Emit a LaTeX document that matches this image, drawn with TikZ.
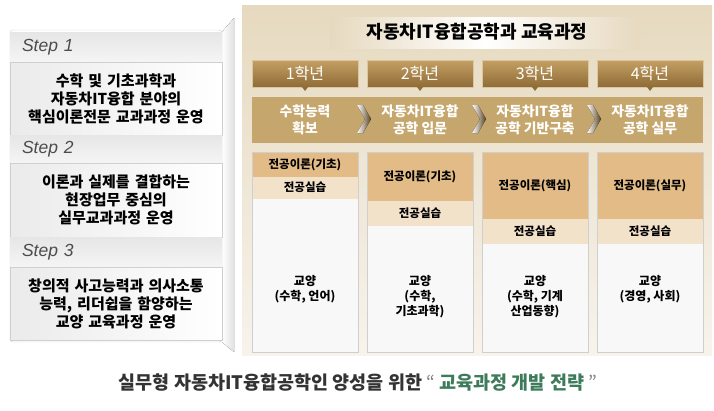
\documentclass[tikz,border=0pt]{standalone}
\usepackage{fontspec}
\setmainfont{Noto Sans CJK KR}
\newfontfamily\stepfont{Liberation Sans}
\usetikzlibrary{positioning}
\definecolor{GoldDark}{HTML}{8F6C36}
\definecolor{GoldLight}{HTML}{C4A064}
\definecolor{GoldBand}{HTML}{C5A66C}
\definecolor{CreamBg}{HTML}{E6D9BF}
\definecolor{TheoryTan}{HTML}{E3BB87}
\definecolor{PracticeTan}{HTML}{F3E2CA}
\definecolor{BodyGray}{HTML}{F8F8F8}
\definecolor{LineGray}{HTML}{CFCFCF}
\definecolor{StepGray}{HTML}{E6E6E6}
\definecolor{CaptionGreen}{HTML}{3E7B5B}
\definecolor{TextGray}{HTML}{333333}

\tikzset{
  chevron/.pic={
    \fill[left color=white,right color=GoldDark!60!black]
      (-7,-14) -- (-1,-14) -- (7,0) -- (-1,14) -- (-7,14) -- (1,0) -- cycle;
  }
}

\begin{document}
\begin{tikzpicture}[x=1pt,y=-1pt,node distance=9pt,
  every node/.style={outer sep=0pt},
  yearbox/.style={minimum width=106pt,minimum height=27pt,inner sep=0pt,
    top color=GoldLight,bottom color=GoldDark,draw=GoldLight!60!white,
    text=white,font=\fontsize{16}{18}\selectfont},
  bandtext/.style={text=white,align=center,font=\bfseries\fontsize{13.8}{17}\selectfont},
  colbody/.style={fill=BodyGray,draw=LineGray,minimum width=106pt,minimum height=200pt,inner sep=0pt},
  theory/.style={fill=TheoryTan,minimum width=105pt,inner sep=0pt,font=\bfseries\fontsize{11.5}{14}\selectfont},
  practice/.style={fill=PracticeTan,minimum width=105pt,inner sep=0pt,font=\bfseries\fontsize{11.5}{14}\selectfont},
  bodytext/.style={align=center,font=\bfseries\fontsize{12}{15}\selectfont},
  stepbar/.style={top color=StepGray,bottom color=StepGray!40!white,minimum width=212pt,
    text width=188pt,inner xsep=12pt,align=left,font=\stepfont\itshape\fontsize{17.5}{19}\selectfont,text=black!70},
  stepbody/.style={left color=white!92!black,right color=white,draw=LineGray,minimum width=212pt,
    text width=208pt,inner xsep=2pt,align=center,font=\bfseries\fontsize{15}{18}\selectfont}]

\useasboundingbox (0,0) rectangle (714,410);

% right panel background
\fill[top color=CreamBg,bottom color=white!70!CreamBg] (242,5) rectangle (712,355);
\fill[left color=CreamBg,right color=CreamBg,middle color=white] (330,17) rectangle (640,48);
\node[font=\bfseries\fontsize{18}{20}\selectfont] (title) at (477,32) {자동차IT융합공학과 교육과정};

% year headers
\node[yearbox,anchor=north west] (y1) at (252,60) {1학년};
\node[yearbox,right=of y1] (y2) {2학년};
\node[yearbox,right=of y2] (y3) {3학년};
\node[yearbox,right=of y3] (y4) {4학년};
\fill[GoldDark] ([xshift=-3pt]y1.south) -- ([xshift=3pt]y1.south) -- ([yshift=-4pt]y1.south) -- cycle;
\fill[GoldDark] ([xshift=-3pt]y2.south) -- ([xshift=3pt]y2.south) -- ([yshift=-4pt]y2.south) -- cycle;
\fill[GoldDark] ([xshift=-3pt]y3.south) -- ([xshift=3pt]y3.south) -- ([yshift=-4pt]y3.south) -- cycle;
\fill[GoldDark] ([xshift=-3pt]y4.south) -- ([xshift=3pt]y4.south) -- ([yshift=-4pt]y4.south) -- cycle;

% goal band
\node[fill=GoldBand,minimum width=451pt,minimum height=46pt,anchor=north west] (band) at (252,97) {};
\node[bandtext] (b1) at (y1 |- band) {수학능력\\확보};
\node[bandtext] (b2) at (y2 |- band) {자동차IT융합\\공학 입문};
\node[bandtext] (b3) at (y3 |- band) {자동차IT융합\\공학 기반구축};
\node[bandtext] (b4) at (y4 |- band) {자동차IT융합\\공학 실무};
\pic at (364,119) {chevron};
\pic at (479,119) {chevron};
\pic at (594,119) {chevron};

% columns
\node[colbody,below=65pt of y1] (c1) {};
\node[colbody,below=65pt of y2] (c2) {};
\node[colbody,below=65pt of y3] (c3) {};
\node[colbody,below=65pt of y4] (c4) {};
\node[theory,minimum height=24pt,anchor=north] (t1) at ([yshift=-0.5pt]c1.north) {전공이론(기초)};
\node[practice,minimum height=22pt,below=0pt of t1] (p1) {전공실습};
\node[theory,minimum height=48pt,anchor=north] (t2) at ([yshift=-0.5pt]c2.north) {전공이론(기초)};
\node[practice,minimum height=25pt,below=0pt of t2] (p2) {전공실습};
\node[theory,minimum height=66pt,anchor=north] (t3) at ([yshift=-0.5pt]c3.north) {전공이론(핵심)};
\node[practice,minimum height=25pt,below=0pt of t3] (p3) {전공실습};
\node[theory,minimum height=66pt,anchor=north] (t4) at ([yshift=-0.5pt]c4.north) {전공이론(실무)};
\node[practice,minimum height=25pt,below=0pt of t4] (p4) {전공실습};
\node[bodytext,below=120pt of c1.north] (e1) {교양\\(수학, 언어)};
\node[bodytext,below=120pt of c2.north] (e2) {교양\\(수학,\\기초과학)};
\node[bodytext,below=120pt of c3.north] (e3) {교양\\(수학, 기계\\산업동향)};
\node[bodytext,below=120pt of c4.north] (e4) {교양\\(경영, 사회)};

% left panel
\fill[left color=white,right color=black!12] (222,32) -- (234,18) -- (234,352) -- (222,342) -- cycle;
\fill[white,draw=LineGray,rounded corners=3pt] (10,30) rectangle (222,342);
\node[stepbar,minimum height=30pt,anchor=north west] (s1) at (10,32) {Step 1};
\node[stepbody,minimum height=73pt,below=0pt of s1] (d1) {수학 및 기초과학과\\자동차IT융합 분야의\\핵심이론전문 교과과정 운영};
\node[stepbar,minimum height=28pt,below=0pt of d1] (s2) {Step 2};
\node[stepbody,minimum height=74pt,below=0pt of s2] (d2) {이론과 실제를 결합하는\\현장업무 중심의\\실무교과과정 운영};
\node[stepbar,minimum height=30pt,below=0pt of d2] (s3) {Step 3};
\node[stepbody,minimum height=73pt,below=0pt of s3] (d3) {창의적 사고능력과 의사소통\\능력, 리더쉽을 함양하는\\교양 교육과정 운영};

% caption
\node[font=\bfseries\fontsize{18.5}{20}\selectfont,text=TextGray] (caption) at (358,383)
  {실무형 자동차IT융합공학인 양성을 위한 {\mdseries\color{black!50}“} \textcolor{CaptionGreen}{교육과정 개발 전략} {\mdseries\color{black!50}”}};
\end{tikzpicture}
\end{document}
